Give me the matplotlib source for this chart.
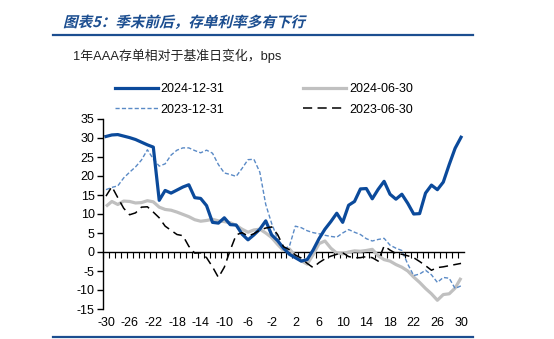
import matplotlib.pyplot as plt
from matplotlib.patheffects import AbstractPathEffect
from matplotlib.transforms import Affine2D
from matplotlib.lines import Line2D

# 数据：相对基准日的天数，及各基准日前后 1 年 AAA 存单利率变化 (bps)
days = list(range(-30, 31))

s_20241231 = [30.4, 30.8, 30.9, 30.5, 30.1, 29.6, 28.9, 28.2, 27.6, 13.6,
              16.2, 15.5, 16.3, 17.1, 17.7, 14.3, 14.1, 12.2, 7.8, 7.6,
              9.0, 7.2, 7.1, 4.7, 3.2, 4.5, 6.0, 8.2, 4.5, 3.0,
              1.0, -0.6, -1.5, -2.4, -2.0, 0.5, 3.5, 6.0, 8.0, 10.2,
              7.8, 12.3, 13.3, 16.6, 16.7, 14.0, 16.5, 18.6, 15.2, 13.9,
              15.2, 12.8, 10.0, 10.1, 15.5, 17.6, 16.4, 18.4, 23.0, 27.3,
              30.2]

s_20240630 = [12.0, 13.3, 12.5, 13.4, 13.3, 12.9, 13.0, 13.5, 13.2, 11.8,
              11.2, 11.0, 10.5, 9.9, 9.3, 8.5, 8.1, 8.3, 8.6, 8.2,
              8.0, 7.7, 7.0, 6.0, 5.2, 5.8, 6.0, 5.0, 3.8, 2.0,
              0.4, 0.8, -1.0, -2.3, -3.2, -0.7, 2.2, 2.9, 1.0, -0.3,
              -0.5, 0.0, 0.3, 0.2, 0.4, 0.7, -1.0, -2.0, -2.4, -3.3,
              -4.0, -5.0, -6.6, -8.0, -9.6, -11.0, -12.7, -11.2, -11.0, -9.5,
              -6.8]

s_20231231 = [16.4, 17.0, 17.4, 19.5, 21.0, 22.4, 24.2, 26.9, 24.5, 22.6,
              23.2, 25.5, 26.8, 27.4, 27.4, 26.7, 26.1, 26.8, 26.0, 23.0,
              20.8, 20.4, 19.9, 22.0, 24.3, 24.4, 21.0, 12.5, 7.5, 3.5,
              0.8, 1.5, 6.8, 6.4, 5.6, 5.1, 4.8, 4.4, 4.1, 3.9,
              5.0, 5.9, 5.2, 4.6, 3.5, 2.9, 3.3, 3.6, 1.8, 1.0,
              0.4, -3.2, -6.2, -5.8, -4.8, -6.0, -8.0, -6.7, -6.9, -9.6,
              -8.9]

s_20230630 = [14.7, 17.2, 14.3, 11.5, 9.8, 10.3, 11.8, 11.9, 10.5, 9.0,
              6.8, 5.7, 4.6, 4.3, 1.5, -0.3, -0.2, -1.5, -3.9, -6.7,
              -4.0, 0.5, 4.5, 5.1, 4.2, 4.8, 5.8, 6.3, 6.6, 4.6,
              1.4, 0.6, -0.8, -1.6, -3.0, -4.1, -2.8, -1.8, -1.1, -0.6,
              -0.2, -1.2, -1.5, -1.5, -1.2, -1.5, -2.4, 1.6, 0.5, -0.4,
              -0.6, -1.0, -1.5, -2.5, -3.6, -4.8, -4.1, -3.9, -3.6, -3.3,
              -3.0]

xtick_labels = list(range(-30, 31, 4))
ytick_labels = list(range(-15, 36, 5))

c_dark = '#0B4A9B'
c_light = '#5A8AC6'
c_grey = '#C0C0C0'
c_title = '#1C4E90'
latin = ['Liberation Sans', 'Noto Sans CJK SC', 'DejaVu Sans']


class Oblique(AbstractPathEffect):
    # 模拟斜体：把文字路径整体错切
    def draw_path(self, renderer, gc, tpath, affine, rgbFace=None):
        renderer.draw_path(gc, tpath, Affine2D().skew_deg(14, 0) + affine, rgbFace)


plt.rcParams['font.family'] = latin
plt.rcParams['axes.unicode_minus'] = False

fig = plt.figure(figsize=(5.54, 3.39), dpi=100)
ax = fig.add_axes([103 / 554, 30 / 339, 361 / 554, 190 / 339])

ax.plot(days, s_20240630, color=c_grey, lw=2.3, solid_capstyle='butt')
ax.plot(days, s_20231231, color=c_light, lw=1.0, linestyle=(0, (3, 1.6)))
ax.plot(days, s_20241231, color=c_dark, lw=2.3)
ax.plot(days, s_20230630, color='black', lw=1.1, linestyle=(0, (6, 3.5)))

ax.set_xlim(-30.5, 30.5)
ax.set_ylim(-15, 35)
ax.set_yticks(ytick_labels)
ax.set_xticks(xtick_labels)
ax.tick_params(axis='y', direction='out', length=4, width=1, labelsize=9, pad=2)
ax.tick_params(axis='x', length=0, labelsize=9, pad=6)
for side in ['top', 'right', 'bottom']:
    ax.spines[side].set_visible(False)
ax.spines['left'].set_linewidth(1)

# 零线及其刻度
zero_ax = ax.secondary_xaxis(15 / 50)
zero_ax.set_xticks([d + 0.5 for d in days[:-1]] + [-30.5])
zero_ax.set_xticklabels([])
zero_ax.tick_params(direction='out', length=4, width=0.8)
zero_ax.spines['bottom'].set_linewidth(1)

handles = [
    Line2D([], [], color=c_dark, lw=2.3),
    Line2D([], [], color=c_light, lw=1.0, linestyle=(0, (3, 1.6))),
    Line2D([], [], color=c_grey, lw=2.3),
    Line2D([], [], color='black', lw=1.1, linestyle=(0, (6, 3.5))),
]
labels = ['2024-12-31', '2023-12-31', '2024-06-30', '2023-06-30']
fig.legend(handles, labels, loc='upper left', bbox_to_anchor=(115 / 554, 1 - 83 / 339),
           ncol=2, frameon=False, fontsize=9, handlelength=3.4, handletextpad=0.25,
           columnspacing=6.3, labelspacing=0.7, borderpad=0, borderaxespad=0)

# 标题、副标题与分隔线
title = fig.text(63 / 554, 1 - 22 / 339, '图表5：季末前后，存单利率多有下行', color=c_title,
                 fontsize=10.5, fontweight='bold', va='center', ha='left',
                 family=['Noto Sans CJK SC', 'DejaVu Sans'])
title.set_path_effects([Oblique()])
fig.text(73 / 554, 1 - 56 / 339, '1年AAA存单相对于基准日变化，bps', color='#222222',
         fontsize=9.3, va='center', ha='left')
fig.add_artist(Line2D([53 / 554, 473 / 554], [1 - 35 / 339, 1 - 35 / 339],
                      transform=fig.transFigure, color=c_title, lw=1.6))
fig.add_artist(Line2D([53 / 554, 473 / 554], [1 - 337 / 339, 1 - 337 / 339],
                      transform=fig.transFigure, color=c_title, lw=1.6))

fig.savefig('out.png', dpi=100)
